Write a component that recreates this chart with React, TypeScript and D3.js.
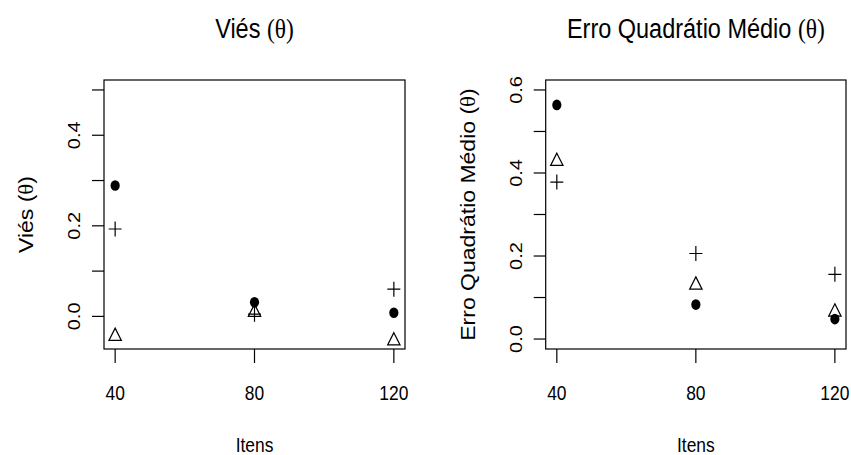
import React, { useEffect, useRef } from 'react';
import * as d3 from 'd3';

// itens (eixo x)
const itens = [40, 80, 120];

// Viés (theta): três séries
const viesPonto = [0.289, 0.031, 0.008];
const viesCruz = [0.193, 0.005, 0.06];
const viesTriang = [-0.044, 0.009, -0.054];

// Erro Quadrático Médio (theta)
const eqmPonto = [0.564, 0.083, 0.048];
const eqmCruz = [0.378, 0.206, 0.156];
const eqmTriang = [0.428, 0.13, 0.065];

const viesTicks = [0, 0.1, 0.2, 0.3, 0.4, 0.5];
const viesLabels = ['0.0', '', '0.2', '', '0.4', ''];
const eqmTicks = [0, 0.1, 0.2, 0.3, 0.4, 0.5, 0.6];
const eqmLabels = ['0.0', '', '0.2', '', '0.4', '', '0.6'];

const W = 851;
const H = 455;
const SX = 0.87; // the original picture was squeezed horizontally
const SANS = '"Liberation Sans", Arial, sans-serif';
const SERIF = '"Liberation Serif", "Times New Roman", serif';

type Panel = {
  title: string;
  ylab: string;
  left: number;
  right: number;
  ydomain: [number, number];
  ticks: number[];
  labels: string[];
  ponto: number[];
  cruz: number[];
  triang: number[];
};

const panels: Panel[] = [
  {
    title: 'Viés ', ylab: 'Viés ', left: 104, right: 405,
    ydomain: [-0.072, 0.522], ticks: viesTicks, labels: viesLabels,
    ponto: viesPonto, cruz: viesCruz, triang: viesTriang,
  },
  {
    title: 'Erro Quadrátio Médio ', ylab: 'Erro Quadrátio Médio ', left: 545.7, right: 846,
    ydomain: [-0.024, 0.624], ticks: eqmTicks, labels: eqmLabels,
    ponto: eqmPonto, cruz: eqmCruz, triang: eqmTriang,
  },
];

const top = 80;
const bottom = 349;

const App = () => {
  const ref = useRef<SVGSVGElement | null>(null);

  useEffect(() => {
    if (!ref.current) return;
    const svg = d3.select(ref.current);
    svg.selectAll('*').remove();

    panels.forEach((p) => {
      const g = svg.append('g');
      const x = d3.scaleLinear().domain([36.8, 123.2]).range([p.left, p.right]);
      const y = d3.scaleLinear().domain(p.ydomain).range([bottom, top]);
      const cx = (p.left + p.right) / 2;
      const cy = (top + bottom) / 2;

      // box
      g.append('rect')
        .attr('x', p.left).attr('y', top)
        .attr('width', p.right - p.left).attr('height', bottom - top)
        .attr('fill', 'none').attr('stroke', '#000').attr('stroke-width', 1.2);

      // x ticks
      itens.forEach((v) => {
        g.append('line')
          .attr('x1', x(v)).attr('x2', x(v))
          .attr('y1', bottom).attr('y2', bottom + 14)
          .attr('stroke', '#000').attr('stroke-width', 1.2);
        g.append('text')
          .attr('transform', `translate(${x(v)},400) scale(${SX},1)`)
          .attr('text-anchor', 'middle')
          .attr('font-family', SANS).attr('font-size', 20)
          .text(String(v));
      });

      // y ticks
      p.ticks.forEach((v, i) => {
        g.append('line')
          .attr('x1', p.left - 12).attr('x2', p.left)
          .attr('y1', y(v)).attr('y2', y(v))
          .attr('stroke', '#000').attr('stroke-width', 1.2);
        if (p.labels[i]) {
          g.append('text')
            .attr('transform', `translate(${p.left - 24},${y(v)}) scale(${SX},1) rotate(-90)`)
            .attr('text-anchor', 'middle')
            .attr('font-family', SANS).attr('font-size', 20)
            .text(p.labels[i]);
        }
      });

      // title
      const t = g.append('text')
        .attr('transform', `translate(${cx},38) scale(${SX},1)`)
        .attr('text-anchor', 'middle')
        .attr('font-family', SANS).attr('font-size', 27);
      t.append('tspan').text(p.title);
      t.append('tspan').attr('font-family', SERIF).text('(θ)');

      // x label
      g.append('text')
        .attr('transform', `translate(${cx},452) scale(${SX},1)`)
        .attr('text-anchor', 'middle')
        .attr('font-family', SANS).attr('font-size', 20)
        .text('Itens');

      // y label
      const yl = g.append('text')
        .attr('transform', `translate(${p.left - 71},${cy}) scale(${SX},1) rotate(-90)`)
        .attr('text-anchor', 'middle')
        .attr('font-family', SANS).attr('font-size', 23);
      yl.append('tspan').text(p.ylab + '(');
      yl.append('tspan').attr('font-family', SERIF).text('θ');
      yl.append('tspan').text(')');

      // pch 16
      g.selectAll('.ponto').data(itens).join('ellipse')
        .attr('class', 'ponto')
        .attr('cx', (d) => x(d)).attr('cy', (d, i) => y(p.ponto[i]))
        .attr('rx', 4.6).attr('ry', 5.3).attr('fill', '#000');

      // pch 3
      g.selectAll('.cruz').data(itens).join('path')
        .attr('class', 'cruz')
        .attr('transform', (d, i) => `translate(${x(d)},${y(p.cruz[i])})`)
        .attr('d', 'M-6.5,0H6.5M0,-7.5V7.5')
        .attr('fill', 'none').attr('stroke', '#000').attr('stroke-width', 1.2);

      // pch 2
      g.selectAll('.triang').data(itens).join('path')
        .attr('class', 'triang')
        .attr('transform', (d, i) => `translate(${x(d)},${y(p.triang[i])})`)
        .attr('d', 'M0,-8.2L6.2,4.1L-6.2,4.1Z')
        .attr('fill', 'none').attr('stroke', '#000').attr('stroke-width', 1.2);
    });
  }, []);

  return (
    <svg
      ref={ref}
      width={W}
      height={H}
      style={{ position: 'absolute', left: 0, top: 0, background: '#fff' }}
    />
  );
};

export default App;
